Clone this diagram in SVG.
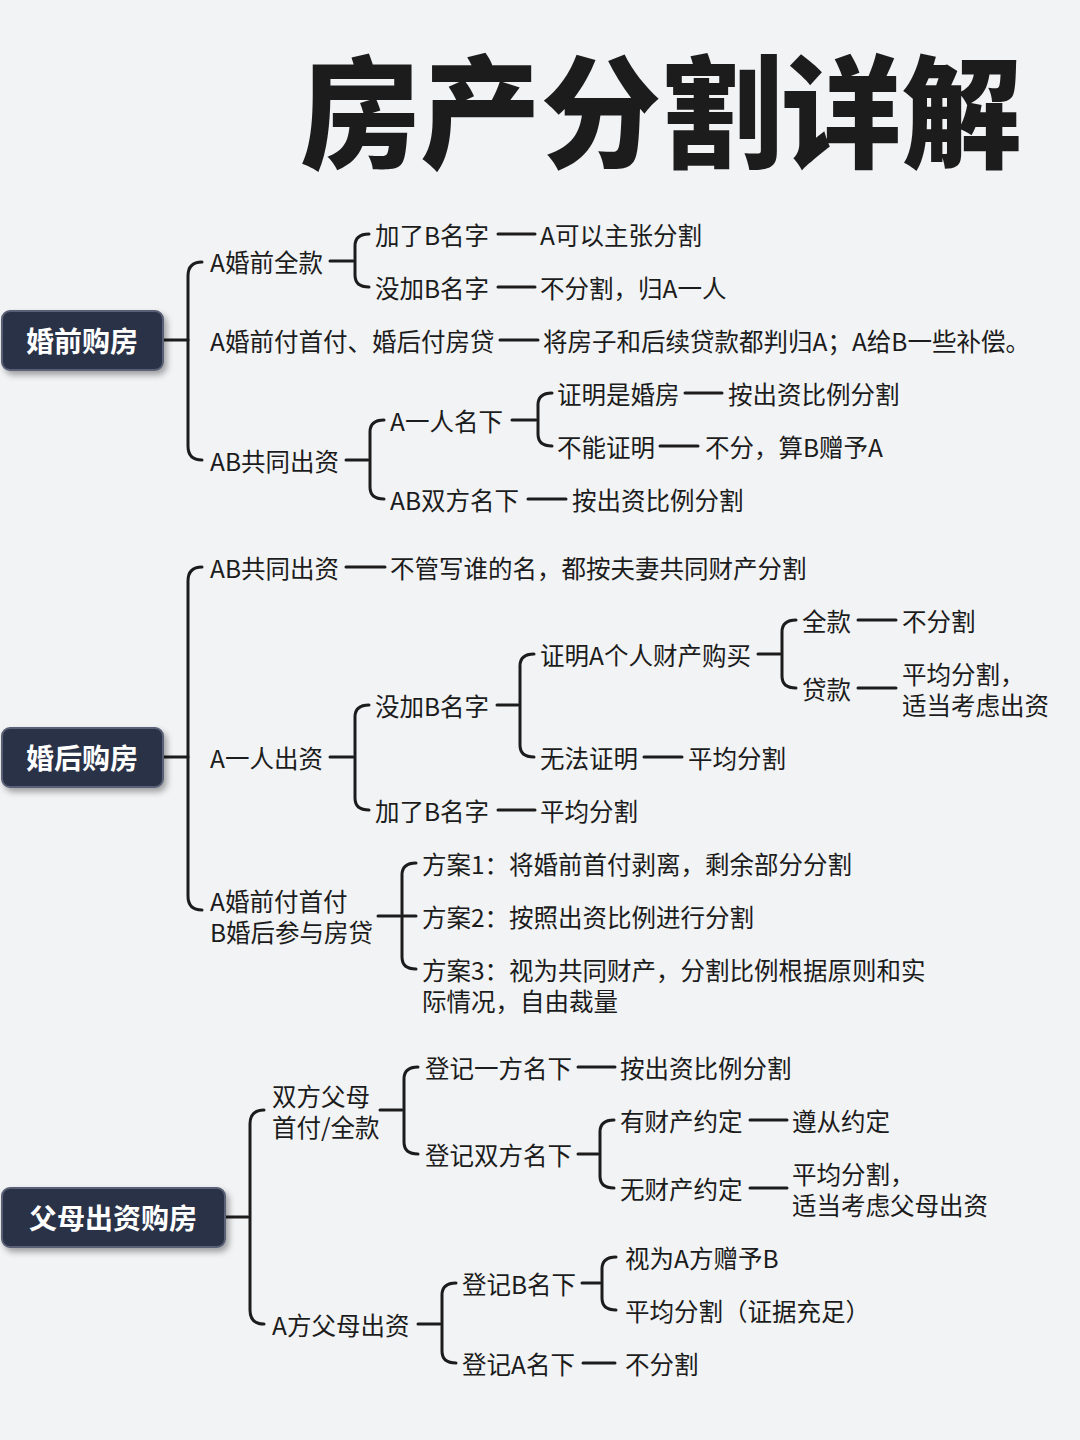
<svg xmlns="http://www.w3.org/2000/svg" width="1080" height="1440" viewBox="0 0 1080 1440">
<defs>
<style>
text{font-family:"Noto Sans CJK SC","Noto Sans",sans-serif;fill:#1c1c1c}
.t{font-size:24.5px;dominant-baseline:central}
.root rect{fill:#2c3346;stroke:#5a6075;stroke-width:2}
.root text{fill:#fff;font-size:28px;font-weight:700;dominant-baseline:central}
.c path,.c line{stroke:#1c1c1c;stroke-width:3;fill:none;stroke-linecap:round}
</style>
<filter id="sh" x="-10%" y="-20%" width="130%" height="150%"><feDropShadow dx="3" dy="4" stdDeviation="3" flood-opacity="0.35"/></filter>
</defs>
<rect width="1080" height="1440" fill="#f2f3f5"/>
<text x="300" y="158" font-size="122" font-weight="900" textLength="722" lengthAdjust="spacingAndGlyphs">房产分割详解</text>

<g class="c" id="connectors">
<line x1="163" y1="340" x2="188" y2="340"/>
<path d="M202 262 Q188 262 188 276 L188 446 Q188 460 202 460"/>
<line x1="330" y1="261" x2="353" y2="261"/>
<path d="M369 234 Q355 234 355 246 L355 275 Q355 287 369 287"/>
<line x1="498" y1="234" x2="535" y2="234"/>
<line x1="498" y1="287" x2="535" y2="287"/>
<line x1="500" y1="340" x2="538" y2="340"/>
<line x1="346" y1="460" x2="368" y2="460"/>
<path d="M384 420 Q370 420 370 432 L370 487 Q370 499 384 499"/>
<line x1="512" y1="420" x2="536" y2="420"/>
<path d="M552 393 Q538 393 538 405 L538 434 Q538 446 552 446"/>
<line x1="685" y1="393" x2="722" y2="393"/>
<line x1="660" y1="446" x2="698" y2="446"/>
<line x1="528" y1="499" x2="566" y2="499"/>
<line x1="163" y1="757" x2="188" y2="757"/>
<path d="M202 567 Q188 567 188 581 L188 896 Q188 910 202 910"/>
<line x1="346" y1="567" x2="385" y2="567"/>
<line x1="330" y1="757" x2="353" y2="757"/>
<path d="M369 705 Q355 705 355 717 L355 798 Q355 810 369 810"/>
<line x1="497" y1="705" x2="518" y2="705"/>
<path d="M534 654 Q520 654 520 666 L520 745 Q520 757 534 757"/>
<line x1="758" y1="654" x2="780" y2="654"/>
<path d="M796 620 Q782 620 782 632 L782 676 Q782 688 796 688"/>
<line x1="858" y1="620" x2="896" y2="620"/>
<line x1="858" y1="688" x2="896" y2="688"/>
<line x1="644" y1="757" x2="682" y2="757"/>
<line x1="498" y1="810" x2="535" y2="810"/>
<line x1="378" y1="916" x2="400" y2="916"/>
<path d="M416 863 Q402 863 402 875 L402 957 Q402 969 416 969"/>
<line x1="402" y1="916" x2="416" y2="916"/>
<line x1="225" y1="1217" x2="248" y2="1217"/>
<path d="M264 1110 Q250 1110 250 1124 L250 1310 Q250 1324 264 1324"/>
<line x1="380" y1="1110" x2="402" y2="1110"/>
<path d="M418 1067 Q404 1067 404 1079 L404 1142 Q404 1154 418 1154"/>
<line x1="578" y1="1067" x2="615" y2="1067"/>
<line x1="578" y1="1154" x2="598" y2="1154"/>
<path d="M614 1120 Q600 1120 600 1132 L600 1176 Q600 1188 614 1188"/>
<line x1="750" y1="1120" x2="787" y2="1120"/>
<line x1="750" y1="1188" x2="787" y2="1188"/>
<line x1="418" y1="1324" x2="440" y2="1324"/>
<path d="M456 1283 Q442 1283 442 1295 L442 1351 Q442 1363 456 1363"/>
<line x1="582" y1="1283" x2="600" y2="1283"/>
<path d="M616 1257 Q602 1257 602 1269 L602 1298 Q602 1310 616 1310"/>
<line x1="583" y1="1363" x2="615" y2="1363"/>
</g>

<g id="root1" class="root"><rect x="2" y="311" width="161" height="59" rx="8" filter="url(#sh)"/><text x="82" y="340" text-anchor="middle">婚前购房</text></g>
<g id="root2" class="root"><rect x="2" y="728" width="161" height="59" rx="8" filter="url(#sh)"/><text x="82" y="757" text-anchor="middle">婚后购房</text></g>
<g id="root3" class="root"><rect x="2" y="1188" width="223" height="59" rx="8" filter="url(#sh)"/><text x="113" y="1217" text-anchor="middle">父母出资购房</text></g>

<g id="s1">
<text class="t" x="210" y="261">A婚前全款</text>
<text class="t" x="375" y="234">加了B名字</text>
<text class="t" x="540" y="234">A可以主张分割</text>
<text class="t" x="375" y="287">没加B名字</text>
<text class="t" x="540" y="287">不分割，归A一人</text>
<text class="t" x="210" y="340">A婚前付首付、婚后付房贷</text>
<text class="t" x="543" y="340">将房子和后续贷款都判归A；A给B一些补偿。</text>
<text class="t" x="210" y="460">AB共同出资</text>
<text class="t" x="390" y="420">A一人名下</text>
<text class="t" x="557" y="393">证明是婚房</text>
<text class="t" x="728" y="393">按出资比例分割</text>
<text class="t" x="557" y="446">不能证明</text>
<text class="t" x="705" y="446">不分，算B赠予A</text>
<text class="t" x="390" y="499">AB双方名下</text>
<text class="t" x="572" y="499">按出资比例分割</text>
</g>
<g id="s2">
<text class="t" x="210" y="567">AB共同出资</text>
<text class="t" x="390" y="567">不管写谁的名，都按夫妻共同财产分割</text>
<text class="t" x="210" y="757">A一人出资</text>
<text class="t" x="375" y="705">没加B名字</text>
<text class="t" x="540" y="654">证明A个人财产购买</text>
<text class="t" x="802" y="620">全款</text>
<text class="t" x="902" y="620">不分割</text>
<text class="t" x="802" y="688">贷款</text>
<text class="t" x="902" y="673">平均分割，</text>
<text class="t" x="902" y="704">适当考虑出资</text>
<text class="t" x="540" y="757">无法证明</text>
<text class="t" x="688" y="757">平均分割</text>
<text class="t" x="375" y="810">加了B名字</text>
<text class="t" x="540" y="810">平均分割</text>
<text class="t" x="210" y="900">A婚前付首付</text>
<text class="t" x="210" y="931">B婚后参与房贷</text>
<text class="t" x="422" y="863">方案1：将婚前首付剥离，剩余部分分割</text>
<text class="t" x="422" y="916">方案2：按照出资比例进行分割</text>
<text class="t" x="422" y="969">方案3：视为共同财产，分割比例根据原则和实</text>
<text class="t" x="422" y="1000">际情况，自由裁量</text>
</g>
<g id="s3">
<text class="t" x="272" y="1095">双方父母</text>
<text class="t" x="272" y="1126">首付/全款</text>
<text class="t" x="425" y="1067">登记一方名下</text>
<text class="t" x="620" y="1067">按出资比例分割</text>
<text class="t" x="425" y="1154">登记双方名下</text>
<text class="t" x="620" y="1120">有财产约定</text>
<text class="t" x="792" y="1120">遵从约定</text>
<text class="t" x="620" y="1188">无财产约定</text>
<text class="t" x="792" y="1173">平均分割，</text>
<text class="t" x="792" y="1204">适当考虑父母出资</text>
<text class="t" x="272" y="1324">A方父母出资</text>
<text class="t" x="462" y="1283">登记B名下</text>
<text class="t" x="625" y="1257">视为A方赠予B</text>
<text class="t" x="625" y="1310">平均分割（证据充足）</text>
<text class="t" x="462" y="1363">登记A名下</text>
<text class="t" x="625" y="1363">不分割</text>
</g>
</svg>
